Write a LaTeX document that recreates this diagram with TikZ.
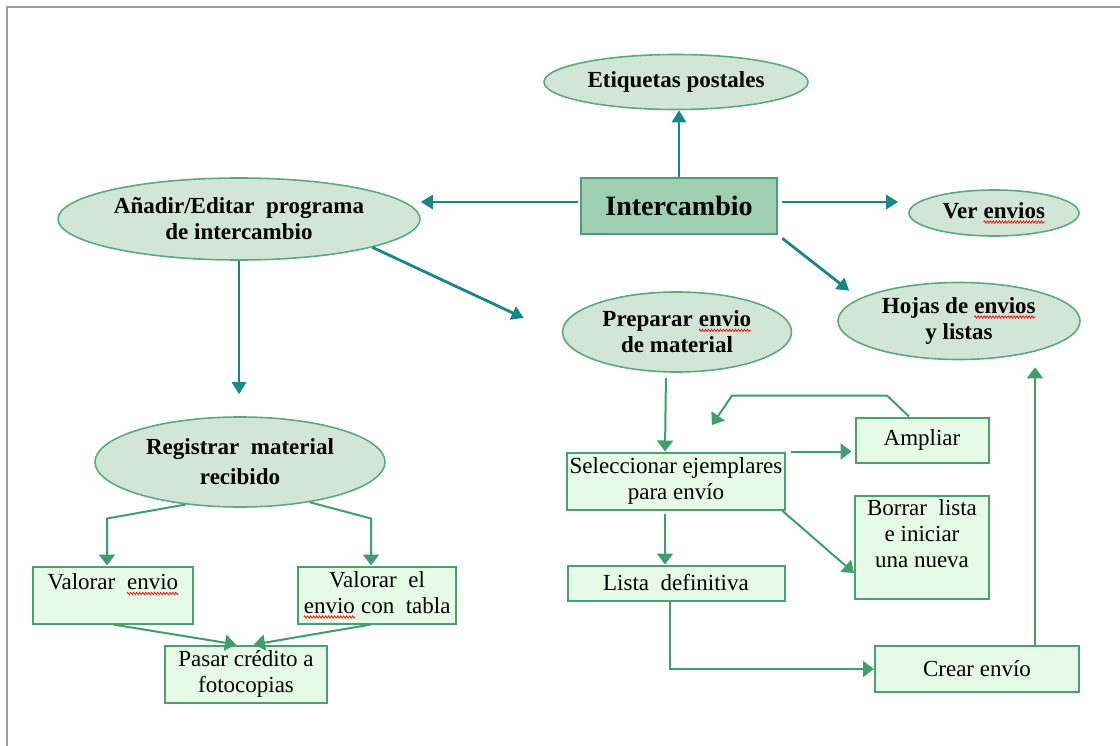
\documentclass[tikz,border=0pt]{standalone}
\usepackage{fontspec}
\setmainfont{Liberation Serif}
\usetikzlibrary{positioning, arrows.meta, shapes.geometric, calc, decorations.pathmorphing}

\definecolor{tealline}{HTML}{19868A}
\definecolor{greenline}{HTML}{3E9F6C}
\definecolor{ovalfill}{HTML}{D2E6D7}
\definecolor{ovalline}{HTML}{5BAA7C}
\definecolor{hubfill}{HTML}{9FCFB3}
\definecolor{hubline}{HTML}{4F9D74}
\definecolor{boxfill}{HTML}{E6FBE6}
\definecolor{boxline}{HTML}{4AA170}
\definecolor{framegray}{HTML}{9A9A9A}

\newcommand\sq[1]{\tikz[baseline=(w.base), x=1pt, y=1pt]{%
    \node[rectangle, minimum width=0pt, minimum height=0pt, inner sep=0pt, outer sep=0pt,
          draw=none, fill=none] (w) {#1};
    \draw[red, line width=0.7pt, decorate, decoration={zigzag, amplitude=1.2pt, segment length=3pt}]
        ([yshift=-3.5pt]w.base west) -- ([yshift=-3.5pt]w.base east);}}

\begin{document}
\begin{tikzpicture}[
        x=1pt, y=-1pt,
        oval/.style={ellipse, draw=ovalline, line width=1.6pt, fill=ovalfill, inner sep=0pt,
            font=\fontsize{23}{26}\selectfont\bfseries, align=center},
        hub/.style={rectangle, draw=hubline, line width=2.6pt, fill=hubfill, inner sep=0pt,
            minimum width=196pt, minimum height=56pt, font=\fontsize{28}{30}\selectfont\bfseries},
        box/.style={rectangle, draw=boxline, line width=2pt, fill=boxfill, inner sep=0pt,
            font=\fontsize{23}{26}\selectfont, align=center},
        tealarr/.style={-{Triangle[length=12pt, width=14pt]}, draw=tealline, line width=2.8pt},
        grarr/.style={-{Triangle[length=11pt, width=16pt]}, draw=greenline, line width=2pt},
    ]
    \useasboundingbox (0,0) rectangle (1120,746);
    \fill[white] (0,0) rectangle (1120,746);
    \draw[framegray, line width=2pt] (7,746) -- (7,7) -- (1120,7);

    \node[oval, minimum width=264pt, minimum height=55pt] (etiq)   at (676,82)  {Etiquetas postales};
    \node[hub]                                            (inter)  at (679,206) {Intercambio};
    \node[oval, minimum width=170pt, minimum height=46pt] (ver)    at (994,213) {Ver \sq{envios}};
    \node[oval, minimum width=242pt, minimum height=77pt] (hojas)  at (959,321) {Hojas de \sq{envios}\\y listas};
    \node[oval, minimum width=362pt, minimum height=82pt] (anadir) at (239,219) {Añadir/Editar \ programa\\de intercambio};
    \node[oval, minimum width=229pt, minimum height=80pt] (prep)   at (677,332) {Preparar \sq{envio}\\de material};
    \node[oval, minimum width=290pt, minimum height=90pt,
          font=\fontsize{23}{30}\selectfont\bfseries]     (regis)  at (240,462) {Registrar \ material\\recibido};

    \node[box, minimum width=160pt, minimum height=57pt]  (valenv) at (113,595) {Valorar \ \sq{envio}\\\mbox{}};
    \node[box, minimum width=158pt, minimum height=57pt]  (valtab) at (377,595) {Valorar \ el\\\sq{envio} con \ tabla};
    \node[box, minimum width=162pt, minimum height=57pt]  (pasar)  at (246,674) {Pasar crédito a\\fotocopias};
    \node[box, minimum width=218pt, minimum height=57pt]  (selec)  at (676,481) {Seleccionar ejemplares\\para envío};
    \node[box, minimum width=133pt, minimum height=45pt]  (ampl)   at (922,440) {Ampliar};
    \node[box, minimum width=134pt, minimum height=103pt] (borrar) at (922,547) {Borrar \ lista\\e iniciar\\una nueva\\\mbox{}};
    \node[box, minimum width=217pt, minimum height=35pt]  (lista)  at (676,583) {Lista \ definitiva};
    \node[box, minimum width=204pt, minimum height=46pt]  (crear)  at (977,669) {Crear envío};
    \coordinate (back) at (712,425);

    \draw[tealarr] (inter.north) -- (inter.north |- etiq.south);
    \draw[tealarr, shorten <=2pt] ([yshift=4pt]inter.west) -- ([yshift=4pt]inter.west -| anadir.east);
    \draw[tealarr, shorten <=4pt, shorten >=10pt] ([yshift=4pt]inter.east) -- ([yshift=4pt]inter.east -| ver.west);
    \draw[tealarr] ($(inter.south east)+(4,3)$) -- ($(hojas.west |- hojas.north)+(12,9)$);
    \draw[tealarr] (anadir.-12) -- ($(prep.west)+(-38,-14)$);
    \draw[tealarr, shorten >=22pt] (anadir.south) -- (anadir.south |- regis.north);

    \draw[grarr] (regis.218) -- ($(valenv.north)+(-6,-47)$) -- ([xshift=-6pt]valenv.north);
    \draw[grarr] (regis.-30) -- ($(valtab.north)+(-6,-47)$) -- ([xshift=-6pt]valtab.north);
    \draw[grarr] (valenv.south) -- ([xshift=-10pt]pasar.north);
    \draw[grarr] ([xshift=-6pt]valtab.south) -- ([xshift=8pt]pasar.north);

    \draw[grarr, shorten <=5pt] ([xshift=-11pt]prep.south) -- ([xshift=-11pt]selec.north);
    \draw[grarr, shorten <=5pt, shorten >=3pt] (selec.north east) -- (selec.north east -| ampl.west);
    \draw[grarr] ([xshift=-13pt]ampl.north) -- ++(-22,-21) -- ++(-155,0) -- (back);
    \draw[grarr] ([xshift=-4pt]selec.south east) -- ([yshift=-26pt]borrar.west);
    \draw[grarr, shorten <=3pt] ([xshift=-11pt]selec.south) -- ([xshift=-11pt]lista.north);
    \draw[grarr] ([xshift=-6pt]lista.south) |- (crear.west);
    \draw[grarr, shorten >=7pt] ([xshift=58pt]crear.north) -- ([xshift=58pt]crear.north |- hojas.south);
\end{tikzpicture}
\end{document}
